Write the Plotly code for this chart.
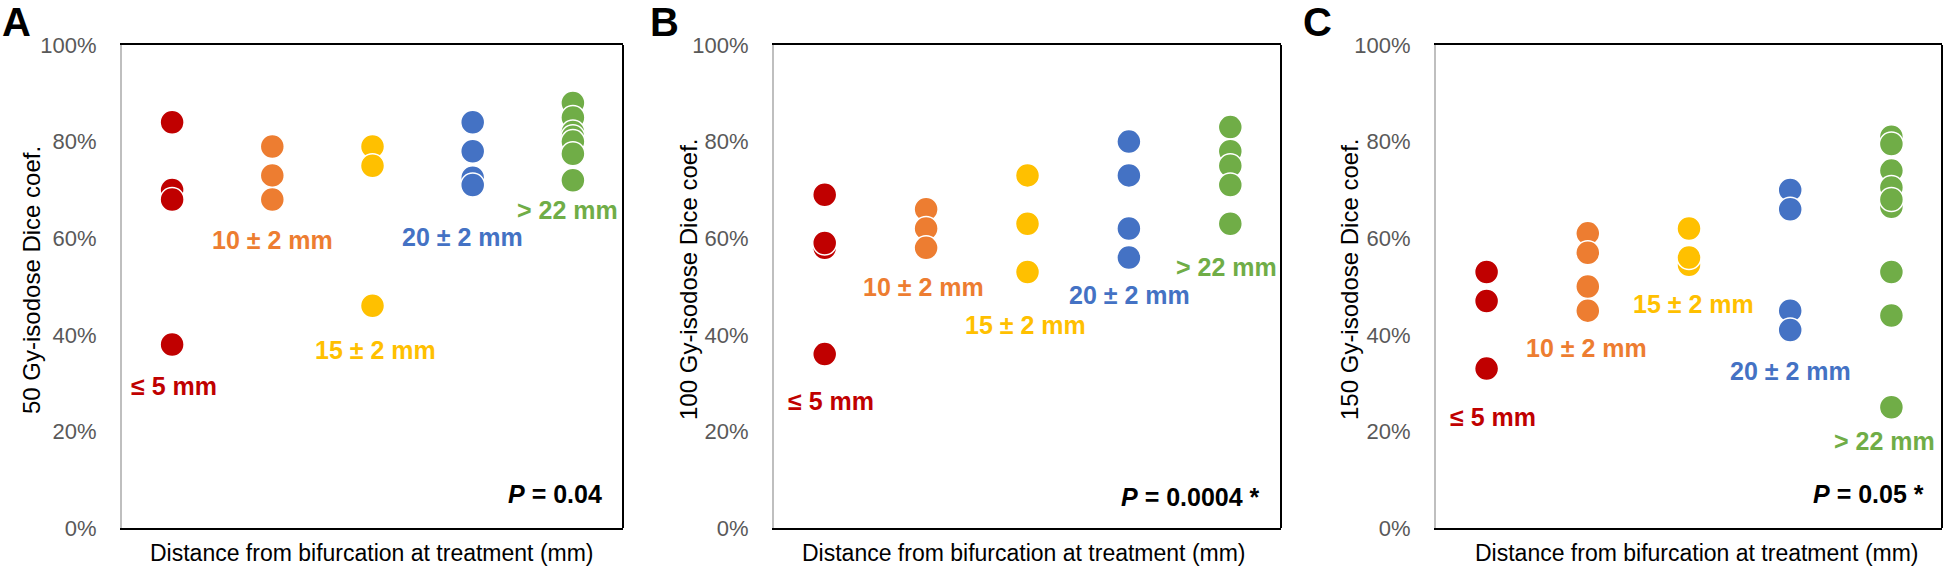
import plotly.graph_objects as go

# ---------------- data ----------------
groups = ["≤ 5 mm", "10 ± 2 mm", "15 ± 2 mm", "20 ± 2 mm", "> 22 mm"]
group_colors = ["#C00000", "#ED7D31", "#FFC000", "#4472C4", "#70AD47"]

# Panel A: 50 Gy-isodose Dice coefficient (%)
a_le5 = [84, 70, 68, 38]
a_10 = [79, 73, 68]
a_15 = [79, 75, 46]
a_20 = [84, 78, 72.5, 71]
a_gt22 = [88, 85, 82, 81, 80, 77.5, 72]

# Panel B: 100 Gy-isodose Dice coefficient (%)
b_le5 = [69, 58, 59, 36]
b_10 = [66, 62, 58]
b_15 = [73, 63, 53]
b_20 = [80, 73, 62, 56]
b_gt22 = [83, 78, 75, 71, 63]

# Panel C: 150 Gy-isodose Dice coefficient (%)
c_le5 = [53, 47, 33]
c_10 = [61, 57, 50, 45]
c_15 = [62, 54.5, 56]
c_20 = [70, 66, 45, 41]
c_gt22 = [81, 79.5, 74, 70.5, 66.5, 68, 53, 44, 25]

panel_letters = ["A", "B", "C"]
y_titles = ["50 Gy-isodose Dice coef.", "100 Gy-isodose Dice coef.", "150 Gy-isodose Dice coef."]
x_title = "Distance from bifurcation at treatment (mm)"
p_texts = ["<b><i>P</i> = 0.04</b>", "<b><i>P</i> = 0.0004 *</b>", "<b><i>P</i> = 0.05 *</b>"]
y_ticks = [0, 20, 40, 60, 80, 100]
y_tick_labels = ["0%", "20%", "40%", "60%", "80%", "100%"]

# group label positions (category index, percent)
label_pos = [
    [(1.02, 29.3), (2.0, 59.6), (3.03, 36.8), (3.9, 60.2), (4.95, 65.9)],
    [(1.06, 26.3), (1.97, 49.9), (2.98, 42.0), (4.01, 48.2), (4.96, 54.0)],
    [(1.06, 22.9), (1.99, 37.2), (3.04, 46.3), (4.0, 32.6), (4.93, 18.1)],
]

panels = [
    [a_le5, a_10, a_15, a_20, a_gt22],
    [b_le5, b_10, b_15, b_20, b_gt22],
    [c_le5, c_10, c_15, c_20, c_gt22],
]

# ---------------- layout geometry ----------------
W, H = 1946, 570
x_px = [(122, 623), (774, 1281), (1436, 1942)]
y_px = (45, 528)
ydom = [1 - y_px[1] / H, 1 - y_px[0] / H]
ytitle_x = [31, 688, 1349]
xtitle_x = [372, 1024, 1697]
letter_x = [0, 648, 1301]
p_right = [604, 1262, 1926]
p_y = [494, 497, 494]

FONT = "Arial, 'Liberation Sans', sans-serif"

fig = go.Figure()
annotations = []
shapes = []
layout_axes = {}

for i, data in enumerate(panels):
    xa = "x" if i == 0 else f"x{i+1}"
    ya = "y" if i == 0 else f"y{i+1}"
    for g, vals in enumerate(data):
        fig.add_trace(go.Scatter(
            x=[g + 1] * len(vals), y=vals, mode="markers",
            xaxis=xa, yaxis=ya, showlegend=False,
            marker=dict(size=24, color=group_colors[g],
                        line=dict(color="white", width=1.5)),
        ))
        lx, ly = label_pos[i][g]
        annotations.append(dict(
            x=lx, y=ly, xref=xa, yref=ya, text=f"<b>{groups[g]}</b>",
            showarrow=False, xanchor="center", yanchor="middle",
            font=dict(family=FONT, size=25, color=group_colors[g]),
        ))
    xkey = "xaxis" if i == 0 else f"xaxis{i+1}"
    ykey = "yaxis" if i == 0 else f"yaxis{i+1}"
    layout_axes[xkey] = dict(
        domain=[x_px[i][0] / W, x_px[i][1] / W], range=[0.5, 5.5],
        showticklabels=False, ticks="", showgrid=False, zeroline=False,
        showline=True, linecolor="black", linewidth=2, mirror=True,
        anchor=ya, fixedrange=True, automargin=False,
    )
    layout_axes[ykey] = dict(
        domain=ydom, range=[0, 100], tickmode="array",
        tickvals=y_ticks, ticktext=y_tick_labels,
        ticks="", showgrid=False, zeroline=False,
        showline=True, linecolor="#BFBFBF", linewidth=2,
        tickfont=dict(family=FONT, size=22, color="#595959"),
        ticklabelstandoff=19, anchor=xa, fixedrange=True, automargin=False,
    )
    # right border of plot area
    shapes.append(dict(type="line", xref=f"{xa} domain", yref=f"{ya} domain",
                       x0=1, x1=1, y0=0, y1=1, line=dict(color="black", width=2)))
    # y axis title
    annotations.append(dict(
        x=ytitle_x[i] / W, y=1 - 280 / H, xref="paper", yref="paper",
        text=y_titles[i], textangle=-90, showarrow=False,
        xanchor="center", yanchor="middle",
        font=dict(family=FONT, size=24, color="black"),
    ))
    # x axis title
    annotations.append(dict(
        x=xtitle_x[i] / W, y=1 - 553 / H, xref="paper", yref="paper",
        text=x_title, showarrow=False, xanchor="center", yanchor="middle",
        font=dict(family=FONT, size=23, color="black"),
    ))
    # panel letter
    annotations.append(dict(
        x=letter_x[i] / W, y=1 - 22 / H, xref="paper", yref="paper",
        text=f"<b>{panel_letters[i]}</b>", showarrow=False,
        xanchor="left", yanchor="middle",
        font=dict(family=FONT, size=40, color="black"),
    ))
    # P value
    annotations.append(dict(
        x=p_right[i] / W, y=1 - p_y[i] / H, xref="paper", yref="paper",
        text=p_texts[i], showarrow=False, xanchor="right", yanchor="middle",
        font=dict(family=FONT, size=25, color="black"),
    ))

fig.update_layout(
    width=W, height=H, margin=dict(l=0, r=0, t=0, b=0, autoexpand=False),
    plot_bgcolor="white", paper_bgcolor="white", template="none",
    annotations=annotations, shapes=shapes, **layout_axes,
)

fig.write_html(
    "out.html",
    config={"displayModeBar": False},
    post_script="document.body.style.margin='0';document.body.style.overflow='hidden';",
)
